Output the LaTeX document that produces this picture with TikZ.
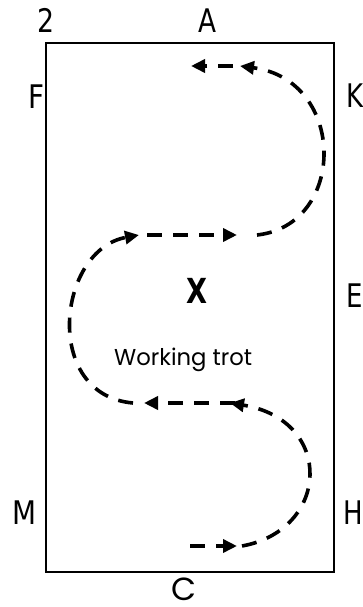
\documentclass[tikz,border=0pt]{standalone}
\usepackage{fontspec}
\setmainfont{DejaVu Sans}
\newfontfamily\pop{Poppins}
\usetikzlibrary{arrows.meta}
\begin{document}
\begin{tikzpicture}[x=1pt,y=-1pt,
  lbl/.style={inner sep=0pt, anchor=base, font=\fontsize{32.5}{32.5}\selectfont},
  lblw/.style={inner sep=0pt, anchor=base west, font=\fontsize{32.5}{32.5}\selectfont},
  route/.style={line width=3.6pt, dash pattern=on 15pt off 11pt, -{Triangle[length=14pt,width=13pt]}},
]
\useasboundingbox (0,0) rectangle (363,607);
\node[draw, line width=1.6pt, inner sep=0pt, minimum width=288pt, minimum height=529pt] (arena) at (190,307.5) {};
% letters
\node[lbl] (two) at (46.5,33) {\resizebox{17pt}{\height}{2}};
\node[lbl] (A) at (207,33) {\resizebox{18pt}{\height}{A}};
\node[lbl] (F) at (36,108) {\resizebox{16pt}{\height}{F}};
\node[lblw] (K) at (346,107) {\scalebox{0.8}[1]{K}};
\node[lblw] (E) at (346,307) {\scalebox{0.8}[1]{E}};
\node[lbl] (M) at (24,524) {\resizebox{24pt}{\height}{M}};
\node[lblw] (H) at (343,524) {\scalebox{0.8}[1]{H}};
\node[lbl, font=\pop\fontsize{32}{32}\selectfont] (C) at (183.5,600) {\resizebox{25pt}{\height}{C}};
\node[lbl, font=\bfseries\fontsize{34.5}{34.5}\selectfont] (X) at (197,303) {\resizebox{21pt}{\height}{X}};
\node[inner sep=0pt, anchor=base west, font=\pop\fontsize{23}{23}\selectfont] (wt) at (114,365.5) {\resizebox{138pt}{\height}{Working trot}};
% route
\coordinate (p1) at (190,546);
\coordinate (p2) at (237,546);
\coordinate (p3) at (242,546);
\coordinate (p4) at (230,403);
\coordinate (p5) at (235,403);
\coordinate (p6) at (144,403);
\coordinate (p7) at (133,403);
\coordinate (p8) at (139,235);
\coordinate (p9) at (147,235);
\coordinate (p10) at (237,235);
\coordinate (p11) at (257,235);
\coordinate (p12) at (240,66);
\coordinate (p13) at (233,66);
\coordinate (p14) at (191,66);
\draw[route] (p1) -- (p2);
\draw[route] (p3) .. controls (330,530) and (335,420) .. (p4);
\draw[route] (p5) -- (p6);
\draw[route] (p7) .. controls (42,395) and (57,250) .. (p8);
\draw[route] (p9) -- (p10);
\draw[route] (p11) .. controls (347,225) and (347,80) .. (p12);
\draw[route] (p13) -- (p14);
\end{tikzpicture}
\end{document}
